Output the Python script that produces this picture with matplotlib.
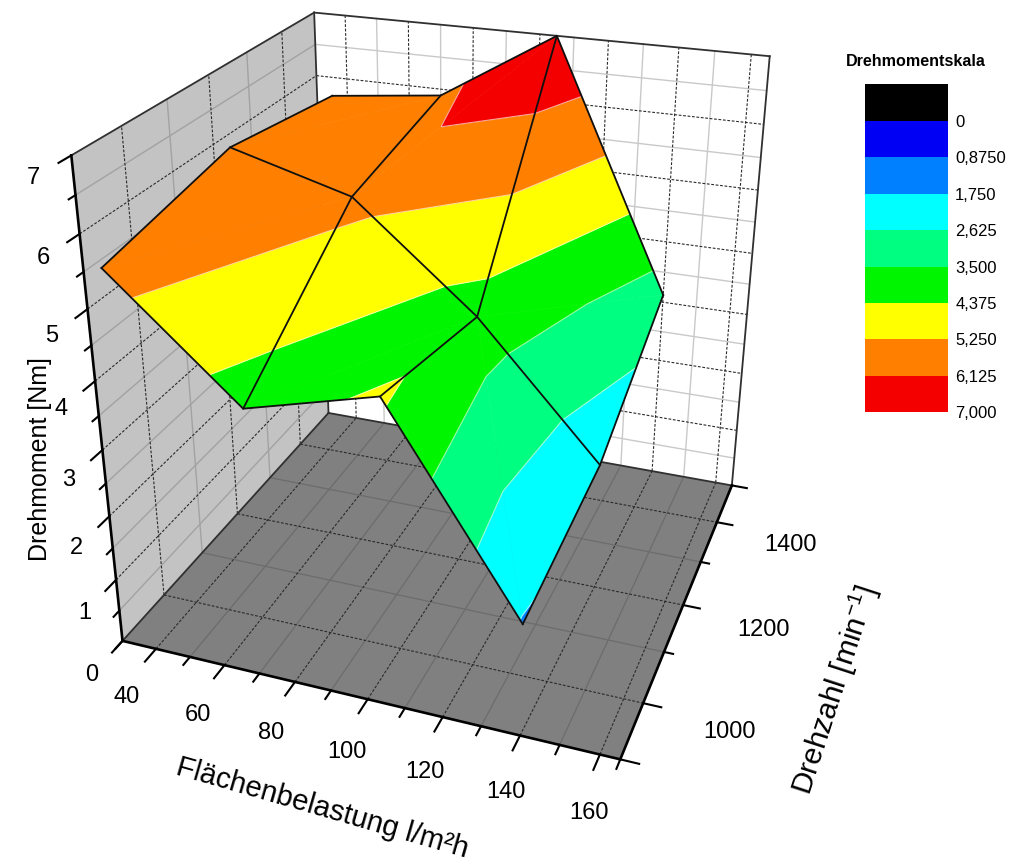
import numpy as np
import matplotlib
matplotlib.use("Agg")
import matplotlib.pyplot as plt
from matplotlib.cm import ScalarMappable
from matplotlib.colors import BoundaryNorm, ListedColormap
from mpl_toolkits.mplot3d import proj3d
from mpl_toolkits.mplot3d.art3d import Line3DCollection, Poly3DCollection

plt.rcParams['font.family'] = ['Liberation Sans', 'DejaVu Sans']
plt.rcParams['mathtext.default'] = 'regular'

# measured surface
flaeche = [35, 70, 105, 140]
drehzahl = [900, 1200, 1500]
moment = [[5.59, 3.99, 4.49, 1.70],
          [5.99, 5.50, 3.99, 2.02],
          [5.70, 5.90, 7.00, 3.12]]

# colour scale
levels = [-0.875, 0, 0.875, 1.75, 2.625, 3.5, 4.375, 5.25, 6.125, 7.0]
level_labels = ['0', '0,8750', '1,750', '2,625', '3,500', '4,375', '5,250', '6,125', '7,000']
band_colors = ['#000000', '#0000f5', '#0080ff', '#00ffff', '#00ff80',
               '#00f500', '#ffff00', '#ff8000', '#f50000']

# axis ranges and ticks
x_lim = (30, 165)
y_lim = (900, 1500)
z_lim = (0, 7)
x_major = [40, 60, 80, 100, 120, 140, 160]
x_minor = [50, 70, 90, 110, 130, 150]
y_major = [1000, 1200, 1400]
y_minor = [1100, 1300]
z_major = [1, 2, 3, 4, 5, 6]
z_minor = [0.5, 1.5, 2.5, 3.5, 4.5, 5.5, 6.5]

# box seen in the picture: data x, y, z -> pixel u, v
camera_points = [(30, 900, 0, 121.7, 640.7), (165, 900, 0, 620.7, 757.7),
                 (165, 1500, 0, 731.7, 485), (30, 1500, 0, 328.3, 413.3),
                 (30, 1500, 7, 315, 12.3), (165, 1500, 7, 769.3, 56),
                 (30, 900, 7, 70.7, 156), (40, 900, 0, 156.7, 648.3),
                 (160, 900, 0, 600, 755), (165, 1400, 0, 716.7, 522.3),
                 (165, 1200, 0, 683.3, 605.7), (165, 1000, 0, 643.3, 704.3)]


def camera_matrix(points):
    # plain DLT, 11 unknowns
    A, b = [], []
    for x, y, z, u, v in points:
        A.append([x, y, z, 1, 0, 0, 0, 0, -u * x, -u * y, -u * z])
        b.append(u)
        A.append([0, 0, 0, 0, x, y, z, 1, -v * x, -v * y, -v * z])
        b.append(v)
    scale = np.array([.01, .001, 1, 1, .01, .001, 1, 1, .01, .001, 1])
    p = np.linalg.lstsq(np.array(A, float) * scale, np.array(b, float), rcond=None)[0] * scale
    return np.append(p, 1).reshape(3, 4)


def clip_band(tri, low, high):
    # keep the part of a triangle between two z values
    poly = list(tri)
    for sign, limit in ((1, low), (-1, high)):
        out = []
        for i in range(len(poly)):
            a, b = poly[i], poly[(i + 1) % len(poly)]
            da, db = sign * (a[2] - limit), sign * (b[2] - limit)
            if da >= 0:
                out.append(a)
            if da * db < 0:
                t = da / (da - db)
                out.append(tuple(a[k] + t * (b[k] - a[k]) for k in range(3)))
        poly = out
        if not poly:
            break
    return poly


def level_segment(tri, level):
    pts = []
    for i in range(3):
        a, b = tri[i], tri[(i + 1) % 3]
        if (a[2] - level) * (b[2] - level) < 0:
            t = (level - a[2]) / (b[2] - a[2])
            pts.append(tuple(a[k] + t * (b[k] - a[k]) for k in range(3)))
    return pts if len(pts) == 2 else None


fig = plt.figure(figsize=(10.09, 8.68), dpi=100)
ax = fig.add_axes([0, -70.5 / 868, 1, 1009 / 868], projection='3d')
ax.set_xticks([])
ax.set_yticks([])
ax.set_zticks([])
ax.set_axis_off()
ax.patch.set_visible(False)
ax.computed_zorder = False
ax.apply_aspect()

flip = np.array([[1, 0, 0], [0, -1, 868], [0, 0, 1]], float)
P = ax.transData.inverted().get_matrix() @ flip @ camera_matrix(camera_points)
# third row only has to stay negative, Line3D drops points with depth > 0
M = np.array([P[0], P[1], [0, 0, -1, -1], P[2]])
ax.get_proj = lambda: M


def tick_label(x, y, z, s):
    tx, ty, _ = proj3d.proj_transform(x, y, z, M)
    ax.text2D(tx, ty, s, transform=ax.transData, fontsize=17, ha='center', va='center', zorder=7)


x0, x1 = x_lim
y0, y1 = y_lim
z0, z1 = z_lim

# walls
ax.add_collection3d(Poly3DCollection([[(x0, y0, z0), (x1, y0, z0), (x1, y1, z0), (x0, y1, z0)]],
                                     facecolors='#808080', edgecolors='none', zorder=1))
ax.add_collection3d(Poly3DCollection([[(x0, y0, z0), (x0, y1, z0), (x0, y1, z1), (x0, y0, z1)]],
                                     facecolors='#c3c3c3', edgecolors='none', zorder=1))
ax.add_collection3d(Poly3DCollection([[(x0, y1, z0), (x1, y1, z0), (x1, y1, z1), (x0, y1, z1)]],
                                     facecolors='#ffffff', edgecolors='none', zorder=1))

dash = (0, (2.5, 1.5))
floor_minor = dict(color='#6c6c6c', lw=0.9, zorder=2)
side_minor = dict(color='#a2a2a2', lw=1.0, zorder=2)
back_minor = dict(color='#c9c9c9', lw=1.0, zorder=2)
major = dict(color='#2a2a2a', lw=0.8, ls=dash, zorder=3)

for x in x_minor:
    ax.plot([x, x], [y0, y1], [z0, z0], **floor_minor)
    ax.plot([x, x], [y1, y1], [z0, z1], **back_minor)
for y in y_minor:
    ax.plot([x0, x1], [y, y], [z0, z0], **floor_minor)
    ax.plot([x0, x0], [y, y], [z0, z1], **side_minor)
for z in z_minor:
    ax.plot([x0, x0], [y0, y1], [z, z], **side_minor)
    ax.plot([x0, x1], [y1, y1], [z, z], **back_minor)
for x in x_major:
    ax.plot([x, x], [y0, y1], [z0, z0], **major)
    ax.plot([x, x], [y1, y1], [z0, z1], **major)
for y in y_major:
    ax.plot([x0, x1], [y, y], [z0, z0], **major)
    ax.plot([x0, x0], [y, y], [z0, z1], **major)
for z in z_major:
    ax.plot([x0, x0], [y0, y1], [z, z], **major)
    ax.plot([x0, x1], [y1, y1], [z, z], **major)

# box edges
thin = dict(color='#303030', lw=1.3, zorder=4)
thick = dict(color='#000000', lw=1.9, zorder=4)
ax.plot([x0, x0], [y1, y1], [z0, z1], **thin)
ax.plot([x0, x0], [y0, y1], [z1, z1], **thin)
ax.plot([x0, x1], [y1, y1], [z1, z1], **thin)
ax.plot([x1, x1], [y1, y1], [z0, z1], **thin)
ax.plot([x0, x0], [y0, y1], [z0, z0], **thin)
ax.plot([x0, x1], [y1, y1], [z0, z0], **thin)
ax.plot([x0, x0], [y0, y0], [z0, z1], **thick)
ax.plot([x0, x1], [y0, y0], [z0, z0], **thick)
ax.plot([x1, x1], [y0, y1], [z0, z0], **thick)

# ticks
tick = dict(color='#000000', lw=1.5, zorder=4)
for x in [30] + x_major + x_minor + [165]:
    size = 26 if x in x_major else 16
    ax.plot([x, x], [y0, y0 - size], [z0, z0], **tick)
for y in [900] + y_major + y_minor + [1500]:
    size = 4.6 if y in y_major or y in (900, 1500) else 2.4
    ax.plot([x1, x1 + size], [y, y], [z0, z0], **tick)
for z in [0, 7] + z_major + z_minor:
    size = 24 if z == int(z) else 13
    ax.plot([x0, x0], [y0, y0 - size], [z, z], **tick)

# tick labels
for x in x_major:
    tick_label(x + 3, y0 - 90, z0, str(x))
for y in y_major:
    tick_label(x1 + 22, y, z0 - 0.15, str(y))
for z in range(0, 8):
    tick_label(x0, y0 - 69, z, str(z))

# surface, only the quad at (105, 900) has its diagonal the other way round
nodes = [[(x, y, moment[j][i]) for i, x in enumerate(flaeche)] for j, y in enumerate(drehzahl)]
triangles = []
for j in range(len(drehzahl) - 1):
    for i in range(len(flaeche) - 1):
        a, b, c, d = nodes[j][i], nodes[j][i + 1], nodes[j + 1][i + 1], nodes[j + 1][i]
        if (i, j) == (2, 0):
            triangles += [(a, b, d), (b, c, d)]
        else:
            triangles += [(a, b, c), (a, c, d)]

polys, colors = [], []
for low, high, col in zip(levels[:-1], levels[1:], band_colors):
    for tri in triangles:
        poly = clip_band(tri, low, high)
        if len(poly) >= 3:
            polys.append(poly)
            colors.append(col)
ax.add_collection3d(Poly3DCollection(polys, facecolors=colors, edgecolors=colors,
                                     linewidths=0.4, zorder=5))

segments = []
for level in levels[2:-1]:
    for tri in triangles:
        seg = level_segment(tri, level)
        if seg:
            segments.append(seg)
ax.add_collection3d(Line3DCollection(segments, colors='#ffffff', linewidths=0.8, alpha=0.6, zorder=6))

mesh = dict(color='#101010', lw=1.3, zorder=6)
for j, y in enumerate(drehzahl):
    ax.plot(flaeche, [y] * len(flaeche), moment[j], **mesh)
for i, x in enumerate(flaeche):
    ax.plot([x] * len(drehzahl), drehzahl, [row[i] for row in moment], **mesh)

# axis titles
fig.text(40 / 1009, 1 - 459 / 868, 'Drehmoment [Nm]', fontsize=18, rotation=90, ha='center', va='center')
fig.text(322 / 1009, 1 - 808 / 868, 'Flächenbelastung l/m²h', fontsize=21, rotation=-16,
         rotation_mode='anchor', ha='center', va='center')
fig.text(835 / 1009, 1 - 690 / 868, 'Drehzahl [min$^{-1}$]', fontsize=21.5, rotation=72,
         rotation_mode='anchor', ha='center', va='center')

# colour scale
cax = fig.add_axes([865 / 1009, 1 - 412.3 / 868, 83.3 / 1009, 328 / 868])
norm = BoundaryNorm(levels, len(band_colors))
cbar = fig.colorbar(ScalarMappable(norm=norm, cmap=ListedColormap(band_colors)), cax=cax,
                    spacing='uniform', ticks=levels[1:])
cbar.ax.invert_yaxis()
cbar.ax.set_yticklabels(level_labels)
cbar.ax.minorticks_off()
cbar.ax.tick_params(which='both', length=0, labelsize=12, pad=5)
cbar.outline.set_visible(False)
fig.text(916 / 1009, 1 - 61 / 868, 'Drehmomentskala', fontsize=11.6, fontweight='bold', ha='center', va='center')

plt.savefig('out.png', dpi=100)
